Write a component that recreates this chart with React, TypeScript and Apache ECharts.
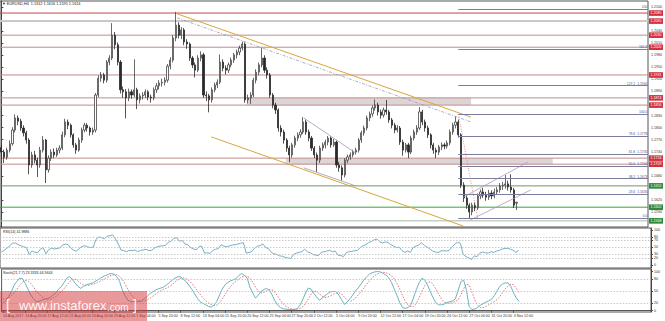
import { useEffect, useRef } from "react";
import * as echarts from "echarts";

// ---------- data ----------
const symbolTitle = "EURUSD,H4";
const lastQuote = [1.1612, 1.1616, 1.1595, 1.1614];

const timeLabels = [
  "10 Aug 2017", "14 Aug 20:00", "17 Aug 12:00", "22 Aug 04:00", "24 Aug 20:00",
  "29 Aug 12:00", "1 Sep 04:00", "5 Sep 20:00", "8 Sep 12:00", "13 Sep 04:00",
  "15 Sep 20:00", "20 Sep 12:00", "25 Sep 04:00", "27 Sep 20:00", "2 Oct 12:00",
  "5 Oct 04:00", "9 Oct 20:00", "12 Oct 12:00", "17 Oct 04:00", "19 Oct 20:00",
  "24 Oct 12:00", "27 Oct 04:00", "31 Oct 20:00", "3 Nov 12:00",
];
const candlesPerLabel = 8;
const futureSlots = 47;

// [open, close, low, high]
const candles = [
  [1.1750, 1.1739, 1.1722, 1.1757], [1.1739, 1.1726, 1.1712, 1.1745], [1.1726, 1.1744, 1.1720, 1.1750], [1.1744, 1.1760, 1.1738, 1.1768], [1.1760, 1.1794, 1.1755, 1.1801],
  [1.1794, 1.1824, 1.1788, 1.1833], [1.1824, 1.1816, 1.1806, 1.1830], [1.1816, 1.1799, 1.1792, 1.1822], [1.1799, 1.1787, 1.1778, 1.1806], [1.1787, 1.1769, 1.1760, 1.1792],
  [1.1769, 1.1707, 1.1684, 1.1774], [1.1707, 1.1732, 1.1700, 1.1740], [1.1732, 1.1719, 1.1711, 1.1742], [1.1719, 1.1707, 1.1677, 1.1725], [1.1707, 1.1744, 1.1700, 1.1752],
  [1.1744, 1.1769, 1.1738, 1.1779], [1.1769, 1.1695, 1.1662, 1.1772], [1.1695, 1.1724, 1.1688, 1.1731], [1.1724, 1.1739, 1.1717, 1.1746], [1.1739, 1.1732, 1.1724, 1.1748],
  [1.1732, 1.1744, 1.1727, 1.1750], [1.1744, 1.1749, 1.1736, 1.1756], [1.1749, 1.1782, 1.1744, 1.1790], [1.1782, 1.1814, 1.1776, 1.1822], [1.1814, 1.1806, 1.1796, 1.1820],
  [1.1806, 1.1782, 1.1775, 1.1810], [1.1782, 1.1757, 1.1750, 1.1786], [1.1757, 1.1744, 1.1735, 1.1762], [1.1744, 1.1769, 1.1740, 1.1775], [1.1769, 1.1794, 1.1762, 1.1800],
  [1.1794, 1.1806, 1.1788, 1.1812], [1.1806, 1.1799, 1.1790, 1.1811], [1.1799, 1.1789, 1.1780, 1.1803], [1.1789, 1.1794, 1.1782, 1.1800], [1.1794, 1.1881, 1.1788, 1.1886],
  [1.1881, 1.1923, 1.1876, 1.1930], [1.1923, 1.1931, 1.1914, 1.1938], [1.1931, 1.1918, 1.1910, 1.1936], [1.1918, 1.1963, 1.1912, 1.1968], [1.1963, 1.1973, 1.1955, 1.1980],
  [1.1973, 1.2030, 1.1968, 1.2060], [1.2030, 1.2006, 1.1995, 1.2038], [1.2006, 1.1963, 1.1955, 1.2012], [1.1963, 1.1894, 1.1885, 1.1968], [1.1894, 1.1889, 1.1874, 1.1902],
  [1.1889, 1.1874, 1.1823, 1.1896], [1.1874, 1.1889, 1.1866, 1.1897], [1.1889, 1.1881, 1.1872, 1.1895], [1.1881, 1.1894, 1.1876, 1.1970], [1.1894, 1.1869, 1.1846, 1.1899],
  [1.1869, 1.1879, 1.1860, 1.1885], [1.1879, 1.1881, 1.1870, 1.1888], [1.1881, 1.1889, 1.1874, 1.1895], [1.1889, 1.1876, 1.1868, 1.1893], [1.1876, 1.1874, 1.1862, 1.1882],
  [1.1874, 1.1894, 1.1868, 1.1900], [1.1894, 1.1904, 1.1886, 1.1911], [1.1904, 1.1911, 1.1895, 1.1918], [1.1911, 1.1913, 1.1902, 1.1922], [1.1913, 1.1918, 1.1905, 1.1925],
  [1.1918, 1.1953, 1.1912, 1.1958], [1.1953, 1.1968, 1.1945, 1.1975], [1.1968, 1.2023, 1.1962, 1.2030], [1.2023, 1.2055, 1.2015, 1.2088], [1.2055, 1.2030, 1.2022, 1.2062],
  [1.2030, 1.2043, 1.2020, 1.2050], [1.2043, 1.2013, 1.2005, 1.2048], [1.2013, 1.2008, 1.1996, 1.2020], [1.2008, 1.1973, 1.1966, 1.2012], [1.1973, 1.1956, 1.1948, 1.1978],
  [1.1956, 1.1943, 1.1925, 1.1962], [1.1943, 1.1973, 1.1938, 1.1980], [1.1973, 1.1981, 1.1965, 1.1990], [1.1981, 1.1881, 1.1874, 1.1986], [1.1881, 1.1879, 1.1866, 1.1890],
  [1.1879, 1.1869, 1.1838, 1.1884], [1.1869, 1.1894, 1.1862, 1.1900], [1.1894, 1.1906, 1.1888, 1.1912], [1.1906, 1.1913, 1.1898, 1.1920], [1.1913, 1.1963, 1.1908, 1.1982],
  [1.1963, 1.1948, 1.1940, 1.1970], [1.1948, 1.1943, 1.1932, 1.1955], [1.1943, 1.1956, 1.1936, 1.1962], [1.1956, 1.1968, 1.1950, 1.1974], [1.1968, 1.1981, 1.1961, 1.1986],
  [1.1981, 1.1988, 1.1972, 1.1994], [1.1988, 1.1998, 1.1980, 1.2004], [1.1998, 1.2008, 1.1992, 1.2014], [1.2008, 1.1869, 1.1862, 1.2012], [1.1869, 1.1874, 1.1860, 1.1882],
  [1.1874, 1.1881, 1.1859, 1.1888], [1.1881, 1.1918, 1.1876, 1.1924], [1.1918, 1.1938, 1.1910, 1.1945], [1.1938, 1.1956, 1.1930, 1.1962], [1.1956, 1.1973, 1.1950, 1.1998],
  [1.1973, 1.1943, 1.1936, 1.1980], [1.1943, 1.1931, 1.1922, 1.1950], [1.1931, 1.1881, 1.1874, 1.1936], [1.1881, 1.1856, 1.1848, 1.1886], [1.1856, 1.1844, 1.1834, 1.1862],
  [1.1844, 1.1799, 1.1790, 1.1848], [1.1799, 1.1789, 1.1778, 1.1806], [1.1789, 1.1769, 1.1760, 1.1795], [1.1769, 1.1749, 1.1740, 1.1774], [1.1749, 1.1732, 1.1714, 1.1755],
  [1.1732, 1.1757, 1.1725, 1.1762], [1.1757, 1.1774, 1.1750, 1.1780], [1.1774, 1.1782, 1.1766, 1.1788], [1.1782, 1.1789, 1.1775, 1.1796], [1.1789, 1.1814, 1.1784, 1.1826],
  [1.1814, 1.1789, 1.1782, 1.1820], [1.1789, 1.1774, 1.1766, 1.1795], [1.1774, 1.1749, 1.1742, 1.1779], [1.1749, 1.1732, 1.1724, 1.1754], [1.1732, 1.1719, 1.1690, 1.1738],
  [1.1719, 1.1749, 1.1712, 1.1755], [1.1749, 1.1757, 1.1742, 1.1763], [1.1757, 1.1764, 1.1748, 1.1770], [1.1764, 1.1774, 1.1756, 1.1779], [1.1774, 1.1757, 1.1750, 1.1778],
  [1.1757, 1.1764, 1.1752, 1.1772], [1.1764, 1.1707, 1.1700, 1.1768], [1.1707, 1.1700, 1.1690, 1.1715], [1.1700, 1.1682, 1.1668, 1.1706], [1.1682, 1.1719, 1.1676, 1.1724],
  [1.1719, 1.1727, 1.1712, 1.1733], [1.1727, 1.1732, 1.1720, 1.1738], [1.1732, 1.1739, 1.1726, 1.1745], [1.1739, 1.1744, 1.1733, 1.1750], [1.1744, 1.1769, 1.1738, 1.1774],
  [1.1769, 1.1787, 1.1762, 1.1792], [1.1787, 1.1799, 1.1780, 1.1805], [1.1799, 1.1824, 1.1793, 1.1830], [1.1824, 1.1834, 1.1816, 1.1840], [1.1834, 1.1849, 1.1827, 1.1855],
  [1.1849, 1.1856, 1.1842, 1.1870], [1.1856, 1.1839, 1.1830, 1.1862], [1.1839, 1.1831, 1.1822, 1.1845], [1.1831, 1.1844, 1.1825, 1.1850], [1.1844, 1.1839, 1.1832, 1.1869],
  [1.1839, 1.1819, 1.1812, 1.1844], [1.1819, 1.1806, 1.1798, 1.1824], [1.1806, 1.1794, 1.1786, 1.1812], [1.1794, 1.1799, 1.1788, 1.1806], [1.1799, 1.1764, 1.1757, 1.1804],
  [1.1764, 1.1744, 1.1730, 1.1770], [1.1744, 1.1757, 1.1738, 1.1762], [1.1757, 1.1739, 1.1724, 1.1762], [1.1739, 1.1774, 1.1734, 1.1780], [1.1774, 1.1789, 1.1768, 1.1795],
  [1.1789, 1.1799, 1.1782, 1.1806], [1.1799, 1.1839, 1.1794, 1.1851], [1.1839, 1.1814, 1.1806, 1.1844], [1.1814, 1.1799, 1.1790, 1.1820], [1.1799, 1.1782, 1.1774, 1.1805],
  [1.1782, 1.1757, 1.1748, 1.1786], [1.1757, 1.1744, 1.1735, 1.1762], [1.1744, 1.1739, 1.1724, 1.1750], [1.1739, 1.1752, 1.1732, 1.1757], [1.1752, 1.1757, 1.1744, 1.1763],
  [1.1757, 1.1754, 1.1746, 1.1762], [1.1754, 1.1762, 1.1748, 1.1768], [1.1762, 1.1789, 1.1756, 1.1795], [1.1789, 1.1806, 1.1782, 1.1812], [1.1806, 1.1814, 1.1798, 1.1828],
  [1.1814, 1.1782, 1.1775, 1.1820], [1.1782, 1.1657, 1.1650, 1.1786], [1.1657, 1.1625, 1.1615, 1.1664], [1.1625, 1.1607, 1.1598, 1.1632], [1.1607, 1.1590, 1.1574, 1.1612],
  [1.1590, 1.1607, 1.1582, 1.1613], [1.1607, 1.1600, 1.1592, 1.1614], [1.1600, 1.1630, 1.1595, 1.1636], [1.1630, 1.1640, 1.1622, 1.1646], [1.1640, 1.1632, 1.1625, 1.1650],
  [1.1632, 1.1627, 1.1618, 1.1640], [1.1627, 1.1637, 1.1620, 1.1645], [1.1637, 1.1630, 1.1622, 1.1644], [1.1630, 1.1640, 1.1624, 1.1648], [1.1640, 1.1645, 1.1632, 1.1652],
  [1.1645, 1.1655, 1.1638, 1.1662], [1.1655, 1.1657, 1.1645, 1.1665], [1.1657, 1.1660, 1.1648, 1.1682], [1.1660, 1.1652, 1.1643, 1.1668], [1.1652, 1.1645, 1.1638, 1.1684],
  [1.1645, 1.1607, 1.1600, 1.1650], [1.1612, 1.1614, 1.1595, 1.1616],
];

const rsi = [
  37, 42, 48, 55, 62, 63, 58, 55, 52, 50,
  30, 40, 36, 35, 45, 50, 32, 44, 48, 46,
  47, 49, 57, 60, 58, 48, 42, 40, 47, 53,
  55, 52, 50, 51, 73, 80, 78, 75, 82, 84,
  86, 74, 60, 43, 41, 38, 42, 41, 43, 38,
  42, 43, 45, 41, 42, 48, 52, 54, 55, 56,
  65, 68, 76, 78, 68, 70, 60, 58, 50, 46,
  43, 52, 54, 34, 35, 33, 42, 45, 47, 58,
  54, 52, 55, 57, 58, 60, 62, 64, 34, 36,
  38, 48, 53, 56, 60, 50, 47, 36, 32, 30,
  26, 25, 22, 20, 18, 30, 34, 36, 38, 45,
  38, 35, 30, 28, 27, 36, 38, 40, 42, 38,
  40, 28, 27, 24, 36, 38, 39, 41, 42, 50,
  55, 58, 64, 67, 72, 74, 66, 63, 66, 64,
  58, 54, 50, 51, 41, 36, 40, 36, 50, 54,
  57, 64, 56, 51, 46, 40, 37, 36, 40, 41,
  40, 42, 52, 60, 65, 62, 30, 24, 20, 16,
  26, 24, 34, 37, 35, 34, 38, 36, 40, 42,
  46, 47, 48, 45, 42, 36, 41.9886,
];

const stochMain = [
  19, 25, 36, 48, 65, 75, 83, 82, 70, 55,
  40, 30, 23, 24, 27, 30, 31, 34, 40, 45,
  55, 61, 72, 83, 87, 80, 70, 62, 57, 62,
  66, 68, 70, 74, 78, 82, 87, 90, 93, 95,
  93, 87, 75, 53, 38, 27, 23, 23, 23, 23,
  26, 31, 37, 44, 48, 53, 56, 58, 61, 66,
  72, 78, 83, 87, 86, 80, 74, 65, 55, 44,
  32, 23, 19, 15, 11, 9, 14, 23, 40, 55,
  66, 72, 76, 79, 82, 90, 95, 90, 83, 60,
  45, 32, 40, 49, 54, 57, 52, 40, 25, 14,
  8, 5, 4, 3, 3, 3, 5, 14, 28, 45,
  58, 55, 44, 35, 27, 32, 38, 44, 48, 49,
  49, 40, 28, 16, 22, 30, 40, 50, 58, 68,
  78, 86, 93, 97, 99, 100, 99, 95, 91, 84,
  72, 55, 38, 20, 8, 6, 8, 15, 35, 55,
  72, 83, 78, 65, 48, 33, 20, 15, 15, 17,
  21, 23, 25, 30, 52, 74, 78, 52, 10, 3,
  4, 8, 14, 18, 22, 25, 29, 38, 50, 62,
  68, 71, 71, 62, 45, 32, 23.3333,
];

const stochSignal = [
  30, 30, 33, 38, 45, 55, 65, 73, 77, 76,
  70, 60, 50, 42, 35, 30, 28, 29, 32, 36,
  42, 49, 56, 65, 74, 80, 80, 76, 70, 66,
  64, 65, 67, 69, 72, 75, 79, 83, 87, 90,
  92, 92, 88, 80, 68, 55, 43, 34, 28, 25,
  24, 25, 28, 32, 37, 42, 47, 51, 55, 58,
  62, 67, 73, 79, 83, 84, 82, 77, 70, 61,
  51, 42, 33, 26, 20, 16, 13, 14, 20, 30,
  41, 52, 62, 70, 76, 81, 86, 88, 88, 83,
  73, 60, 50, 45, 47, 51, 54, 53, 47, 37,
  26, 17, 11, 7, 5, 4, 4, 6, 10, 18,
  30, 42, 50, 49, 43, 37, 34, 35, 38, 42,
  45, 46, 43, 35, 27, 24, 26, 32, 40, 49,
  58, 67, 76, 84, 90, 94, 97, 98, 97, 94,
  89, 81, 69, 54, 38, 24, 14, 10, 11, 20,
  34, 50, 64, 72, 74, 67, 55, 42, 30, 22,
  19, 19, 21, 23, 28, 40, 56, 68, 65, 47,
  28, 14, 8, 8, 11, 15, 19, 23, 28, 36,
  46, 56, 63, 68, 66, 57, 44.9444,
];

// price labels visible on the right scale (the others are hidden behind the level boxes)
const priceTicks = [
  1.159, 1.162, 1.168, 1.174, 1.177, 1.18, 1.183,
  1.189, 1.192, 1.195, 1.198, 1.201, 1.204, 1.21,
];
const rsiTicks = [0, 20, 30, 50, 70, 80, 100];
const rsiLevels = [20, 30, 50, 70, 80];
const stochTicks = [0, 20, 50, 80, 100];
const stochLevels = [20, 50, 80];

const redLevels = [1.2085, 1.2065, 1.2030, 1.2000, 1.1931, 1.1874, 1.1856, 1.1724, 1.1709];
const greenLevels = [1.1655, 1.1602, 1.1568];

// trend lines: [candle index, price]
const channelTop = [[63.5, 1.2083], [169.6, 1.1826]];
const channelBottom = [[75.8, 1.1777], [166.8, 1.1555]];
const dashedTrend = [[63.5, 1.2073], [169.6, 1.1814]];
const wedgeTop = [[109.2, 1.1824], [127.9, 1.1737]];
const wedgeBottom = [[109.2, 1.1700], [127.9, 1.1655]];
const risingTop = [[166.8, 1.1627], [190.1, 1.1714]];
const risingBottom = [[169.3, 1.1570], [191.2, 1.1645]];
const fibAnchor = [[165, 1.1834], [172, 1.1574]];
const fibLevels = [0, 23.6, 38.2, 50, 61.8, 78.6, 100, 127.2, 161.8, 200];
const fibLevelsWithPrice = [23.6, 38.2, 50, 61.8, 78.6, 127.2];
const upperZone = [[88.7, 1.1856], [169.6, 1.1874]];
const lowerZone = [[102.7, 1.1709], [199.1, 1.1724]];

// ---------- styles ----------
const FONT = "Liberation Sans";
const W = 665;
const H = 321;
const PLOT_W = 651;
const redLineStyles = [
  { color: "#c84444", width: 1 },
  { color: "#cfc6c6", width: 2 },
];
const rosy = { color: "#bf8c8c", width: 1 };
const greenLineStyles = [
  { color: "#6f946f", width: 1 },
  { color: "#3aa23a", width: 1 },
  { color: "#a9b9a9", width: 1 },
];

function buildOption() {
  const NC = candles.length + futureSlots;
  const categories = Array.from({ length: NC }, (_, i) =>
    i % candlesPerLabel === 0 && i / candlesPerLabel < timeLabels.length
      ? timeLabels[i / candlesPerLabel]
      : ""
  );
  const fibLow = fibAnchor[1][1];
  const fibHigh = fibAnchor[0][1];
  const fibStart = fibAnchor[0][0];

  const smallLabel = { fontSize: 3.6, fontFamily: FONT, color: "#333" };

  const levelSeries = (v: number, style: any, box: string) => ({
    type: "line",
    xAxisIndex: 1,
    yAxisIndex: 0,
    data: [[-0.5, v], [NC - 0.5, v]],
    symbol: "none",
    silent: true,
    z: 2,
    lineStyle: { ...style, type: "solid" },
    endLabel: {
      show: true,
      distance: 1,
      formatter: () => v.toFixed(4),
      backgroundColor: box,
      color: "#fff",
      fontSize: 3.6,
      fontFamily: FONT,
      padding: [0.8, 1.5],
    },
  });

  const levelList = [
    ...redLevels.map((v, i) => levelSeries(v, redLineStyles[i] || rosy, "#d0323f")),
    ...greenLevels.map((v, i) => levelSeries(v, greenLineStyles[i], "#2e8a3c")),
  ];

  const fibLines = fibLevels.map((lv) => {
    const p = fibLow + ((fibHigh - fibLow) * lv) / 100;
    const txt = fibLevelsWithPrice.includes(lv)
      ? `${lv.toFixed(1)}  ${p.toFixed(4)}`
      : lv === 200
      ? "200"
      : lv.toFixed(1);
    return [
      {
        coord: [fibStart, p],
        name: txt,
        label: {
          show: true,
          position: "insideEndTop",
          distance: 0.5,
          formatter: txt,
          fontSize: 3.4,
          fontFamily: FONT,
          color: "#55558a",
        },
      },
      { coord: [NC - 0.5, p] },
    ];
  });

  const trend = (name: string, data: number[][], style: any, z = 4) => ({
    name,
    type: "line",
    xAxisIndex: 1,
    yAxisIndex: 0,
    data,
    symbol: "none",
    silent: true,
    z,
    lineStyle: style,
  });

  return {
    animation: false,
    backgroundColor: "#ffffff",
    textStyle: { fontFamily: FONT },
    grid: [
      { left: 0, top: 1, width: PLOT_W, height: 226, show: true, borderColor: "#555", borderWidth: 1 },
      { left: 0, top: 228, width: PLOT_W, height: 40, show: true, borderColor: "#555", borderWidth: 1 },
      { left: 0, top: 269, width: PLOT_W, height: 43, show: true, borderColor: "#555", borderWidth: 1 },
    ],
    xAxis: [
      { type: "category", gridIndex: 0, data: categories, boundaryGap: true, show: false },
      { type: "value", gridIndex: 0, min: -0.5, max: NC - 0.5, show: false },
      { type: "category", gridIndex: 1, data: categories, boundaryGap: true, show: false },
      {
        type: "category",
        gridIndex: 2,
        data: categories,
        boundaryGap: true,
        axisLine: { show: true, lineStyle: { color: "#555" } },
        axisTick: {
          show: true,
          alignWithLabel: true,
          interval: (_i: number, v: string) => v !== "",
          length: 2,
          lineStyle: { color: "#555" },
        },
        axisLabel: { ...smallLabel, show: true, interval: 0, align: "left", margin: 2 },
        splitLine: { show: false },
      },
    ],
    yAxis: [
      {
        type: "value",
        gridIndex: 0,
        position: "right",
        min: 1.15527,
        max: 1.2115,
        axisLine: { show: true, lineStyle: { color: "#444" } },
        axisTick: { show: true, length: 2, customValues: priceTicks, lineStyle: { color: "#444" } },
        axisLabel: { ...smallLabel, customValues: priceTicks, margin: 3, formatter: (v: number) => v.toFixed(4) },
        splitLine: { show: false },
      },
      {
        type: "value",
        gridIndex: 1,
        position: "right",
        min: -8.57,
        max: 105.71,
        axisLine: { show: true, lineStyle: { color: "#444" } },
        axisTick: { show: true, length: 2, customValues: rsiTicks, lineStyle: { color: "#444" } },
        axisLabel: { ...smallLabel, customValues: rsiTicks, margin: 3 },
        splitLine: { show: false },
      },
      {
        type: "value",
        gridIndex: 2,
        position: "right",
        min: -3.3,
        max: 106.4,
        axisLine: { show: true, lineStyle: { color: "#444" } },
        axisTick: { show: true, length: 2, customValues: stochTicks, lineStyle: { color: "#444" } },
        axisLabel: { ...smallLabel, customValues: stochTicks, margin: 3 },
        splitLine: { show: false },
      },
    ],
    series: [
      {
        name: "zones",
        type: "line",
        xAxisIndex: 1,
        yAxisIndex: 0,
        data: [],
        symbol: "none",
        silent: true,
        z: 0,
        markArea: {
          silent: true,
          itemStyle: { color: "#ddd5d5" },
          data: [
            [{ coord: upperZone[0] }, { coord: upperZone[1] }],
            [{ coord: lowerZone[0] }, { coord: lowerZone[1] }],
          ],
        },
      },
      ...levelList,
      {
        name: symbolTitle,
        type: "candlestick",
        xAxisIndex: 0,
        yAxisIndex: 0,
        data: candles,
        barWidth: 1.6,
        z: 3,
        itemStyle: {
          color: "#ffffff",
          color0: "#2a2a2a",
          borderColor: "#444444",
          borderColor0: "#2a2a2a",
          borderWidth: 0.8,
        },
      },
      trend("channelTop", channelTop, { color: "#d9a63a", width: 1 }),
      trend("channelBottom", channelBottom, { color: "#d9a63a", width: 1 }),
      trend("dashedTrend", dashedTrend, { color: "#8e9abb", width: 0.8, type: [3, 1.5, 1, 1.5] }),
      trend("wedgeTop", wedgeTop, { color: "#9c98b0", width: 0.8 }),
      trend("wedgeBottom", wedgeBottom, { color: "#9c98b0", width: 0.8 }),
      trend("risingTop", risingTop, { color: "#b795c4", width: 0.8 }),
      trend("risingBottom", risingBottom, { color: "#b795c4", width: 0.8 }),
      {
        ...trend("fib", fibAnchor, { color: "#d07a7a", width: 0.8, type: [1, 1.5] }),
        markLine: {
          silent: true,
          symbol: ["none", "none"],
          lineStyle: { color: "#7c7c9c", width: 1, type: "solid" },
          data: fibLines,
        },
      },
      {
        name: "RSI(14)",
        type: "line",
        xAxisIndex: 2,
        yAxisIndex: 1,
        data: rsi,
        symbol: "none",
        lineStyle: { color: "#79aec6", width: 1 },
        markLine: {
          silent: true,
          symbol: ["none", "none"],
          label: { show: false },
          lineStyle: { color: "#bdbdbd", width: 0.8, type: [1.5, 1.5] },
          data: rsiLevels.map((v) => ({ yAxis: v })),
        },
      },
      {
        name: "Stoch main",
        type: "line",
        xAxisIndex: 3,
        yAxisIndex: 2,
        data: stochMain,
        symbol: "none",
        z: 3,
        lineStyle: { color: "#6cb3bf", width: 1 },
        markLine: {
          silent: true,
          symbol: ["none", "none"],
          label: { show: false },
          lineStyle: { color: "#bdbdbd", width: 0.8, type: [1.5, 1.5] },
          data: stochLevels.map((v) => ({ yAxis: v })),
        },
      },
      {
        name: "Stoch signal",
        type: "line",
        xAxisIndex: 3,
        yAxisIndex: 2,
        data: stochSignal,
        symbol: "none",
        z: 2,
        lineStyle: { color: "#d26a6a", width: 0.9, type: [1.5, 1.5] },
      },
    ],
    graphic: [
      {
        type: "text",
        x: 2,
        y: 2,
        silent: true,
        style: {
          text: `▼ ${symbolTitle}  ${lastQuote.map((v) => v.toFixed(4)).join(" ")}`,
          fill: "#222",
          fontSize: 3.8,
          fontFamily: FONT,
        },
      },
      {
        type: "text",
        x: 3,
        y: 230,
        silent: true,
        style: {
          text: `RSI(14) ${rsi[rsi.length - 1].toFixed(4)}`,
          fill: "#222",
          fontSize: 3.6,
          fontFamily: FONT,
        },
      },
      {
        type: "text",
        x: 3,
        y: 271,
        silent: true,
        style: {
          text: `Stoch(21,7,7) ${stochMain[stochMain.length - 1].toFixed(4)} ${stochSignal[stochSignal.length - 1].toFixed(4)}`,
          fill: "#222",
          fontSize: 3.6,
          fontFamily: FONT,
        },
      },
      {
        type: "rect",
        silent: true,
        z: 100,
        shape: { x: 0, y: 291, width: 147, height: 30 },
        style: { fill: "rgba(212, 52, 52, 0.5)" },
      },
      {
        type: "text",
        silent: true,
        z: 101,
        x: 6,
        y: 298,
        style: { text: "[", fill: "rgba(255,255,255,0.92)", fontSize: 14, fontFamily: FONT },
      },
      {
        type: "text",
        silent: true,
        z: 101,
        x: 19,
        y: 299,
        style: { text: "www.instaforex", fill: "rgba(255,255,255,0.92)", fontSize: 13, fontFamily: FONT },
      },
      {
        type: "text",
        silent: true,
        z: 101,
        x: 107,
        y: 302,
        style: { text: ".com", fill: "rgba(255,255,255,0.92)", fontSize: 10, fontFamily: FONT },
      },
      {
        type: "text",
        silent: true,
        z: 101,
        x: 133,
        y: 298,
        style: { text: "]", fill: "rgba(255,255,255,0.92)", fontSize: 14, fontFamily: FONT },
      },
    ],
  };
}

export default function App() {
  const ref = useRef<HTMLDivElement>(null);
  useEffect(() => {
    document.body.style.margin = "0";
    if (!ref.current) return;
    const chart = echarts.init(ref.current, undefined, { renderer: "svg" });
    chart.setOption(buildOption() as any);
    return () => chart.dispose();
  }, []);
  return (
    <div
      ref={ref}
      style={{ position: "absolute", left: 0, top: 0, width: W, height: H, background: "#fff" }}
    />
  );
}
